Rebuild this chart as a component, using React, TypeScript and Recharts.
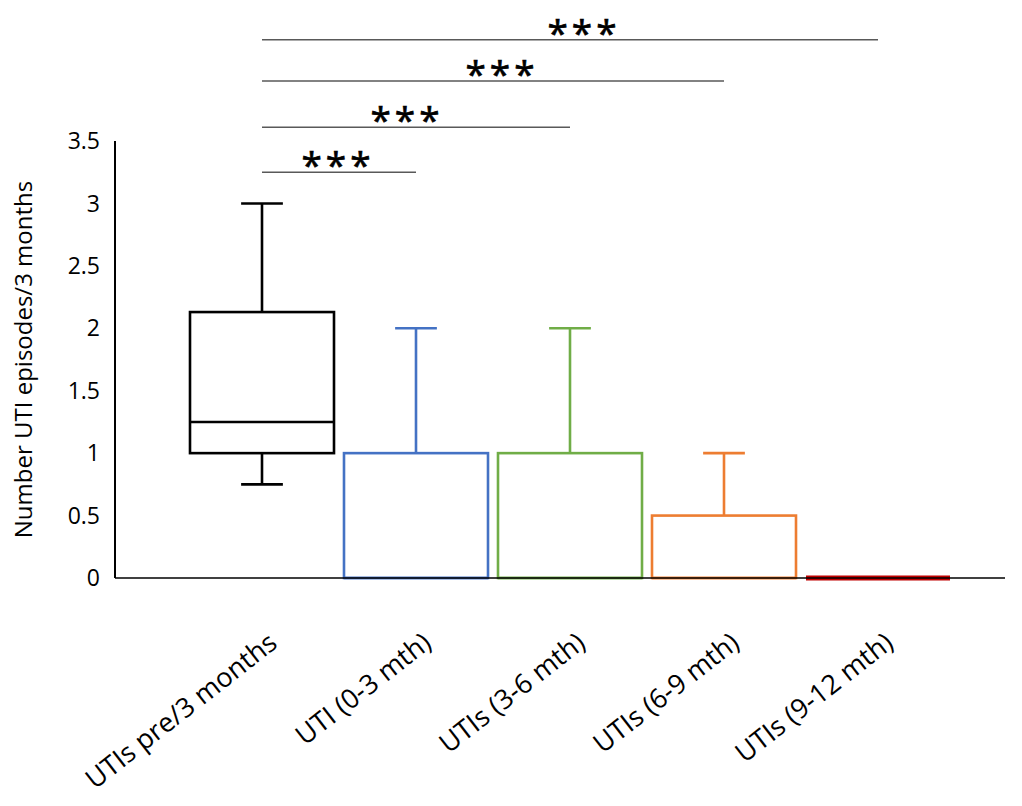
import { BarChart, Bar, XAxis, YAxis, ReferenceLine } from "recharts";

// box plot summary per period (episodes per 3 months)
const groups = [
  "UTIs pre/3 months",
  "UTI (0-3 mth)",
  "UTIs (3-6 mth)",
  "UTIs (6-9 mth)",
  "UTIs (9-12 mth)",
];
const minValues = [0.75, 0, 0, 0, 0];
const q1Values = [1, 0, 0, 0, 0];
const medianValues = [1.25, 0, 0, 0, 0];
const q3Values = [2.13, 1, 1, 0.5, 0];
const maxValues = [3, 2, 2, 1, 0];
const yTicks = [0, 0.5, 1, 1.5, 2, 2.5, 3, 3.5];

// significance brackets: from first group to each later group
const compareTo = [groups[1], groups[2], groups[3], groups[4]];
const compareLevels = [3.25, 3.61, 3.98, 4.31];
const compareLabels = ["***", "***", "***", "***"];

const boxColors = ["#000000", "#4472C4", "#70AD47", "#ED7D31", "#C00000"];
const starShift = [-3, -11, 7, 12];

const data = groups.map((group, i) => ({
  group,
  range: [minValues[i], maxValues[i]],
  min: minValues[i],
  q1: q1Values[i],
  median: medianValues[i],
  q3: q3Values[i],
  max: maxValues[i],
}));

const BoxShape = (props: any) => {
  const { x, y, width, height, payload, index } = props;
  const color = boxColors[index] ?? "#000";
  const { min, q1, median, q3, max } = payload;
  if (max === min) {
    return (
      <line x1={x} x2={x + width} y1={y} y2={y} stroke={color} strokeWidth={5} />
    );
  }
  const toY = (v: number) => y + (height * (max - v)) / (max - min);
  const cx = x + width / 2;
  const cap = width * 0.145;
  const sw = 2.6;
  return (
    <g>
      {max > q3 && (
        <>
          <line x1={cx} x2={cx} y1={toY(q3)} y2={toY(max)} stroke={color} strokeWidth={sw} />
          <line x1={cx - cap} x2={cx + cap} y1={toY(max)} y2={toY(max)} stroke={color} strokeWidth={sw} />
        </>
      )}
      {min < q1 && (
        <>
          <line x1={cx} x2={cx} y1={toY(q1)} y2={toY(min)} stroke={color} strokeWidth={sw} />
          <line x1={cx - cap} x2={cx + cap} y1={toY(min)} y2={toY(min)} stroke={color} strokeWidth={sw} />
        </>
      )}
      <rect
        x={x}
        y={toY(q3)}
        width={width}
        height={toY(q1) - toY(q3)}
        fill="none"
        stroke={color}
        strokeWidth={sw}
      />
      <line x1={x} x2={x + width} y1={toY(median)} y2={toY(median)} stroke={color} strokeWidth={sw} />
    </g>
  );
};

const CategoryTick = (props: any) => {
  const { x, y, payload } = props;
  return (
    <text
      transform={`translate(${x + 17},${y + 60}) rotate(-38)`}
      textAnchor="end"
      fontSize={27}
      fill="#000"
    >
      {payload.value}
    </text>
  );
};

export default function App() {
  return (
    <div style={{ position: "absolute", left: 0, top: 0, background: "#fff" }}>
      <BarChart
        width={1022}
        height={806}
        data={data}
        margin={{ top: 141, right: 17, bottom: 28, left: 0 }}
        barCategoryGap={5}
        style={{ fontFamily: "'Open Sans', sans-serif" }}
      >
        <XAxis
          dataKey="group"
          height={200}
          tick={<CategoryTick />}
          tickLine={false}
          axisLine={{ stroke: "#000", strokeWidth: 1.5 }}
          padding={{ left: 70, right: 50 }}
          interval={0}
        />
        <YAxis
          width={115}
          domain={[0, 3.5]}
          ticks={yTicks}
          tickLine={false}
          tickMargin={9}
          axisLine={{ stroke: "#000", strokeWidth: 2 }}
          tick={{ fill: "#000", fontSize: 23 }}
          label={{
            value: "Number UTI episodes/3 months",
            angle: -90,
            position: "insideLeft",
            offset: 23,
            style: { textAnchor: "middle", fill: "#000", fontSize: 24 },
          }}
        />
        <Bar
          dataKey="range"
          shape={<BoxShape />}
          isAnimationActive={false}
        />
        {compareTo.map((target, i) => (
          <ReferenceLine
            key={target}
            segment={[
              { x: groups[0], y: compareLevels[i] },
              { x: target, y: compareLevels[i] },
            ]}
            ifOverflow="visible"
            stroke="#595959"
            strokeWidth={1.5}
            label={(lp: any) => {
              const vb = lp.viewBox || {};
              const midX = vb.x + (vb.width || 0) / 2 + starShift[i] + 2;
              return (
                <text
                  x={midX}
                  y={vb.y + 6}
                  textAnchor="middle"
                  fontSize={37}
                  letterSpacing={4}
                  stroke="#000"
                  strokeWidth={0.7}
                  fill="#000"
                >
                  {compareLabels[i]}
                </text>
              );
            }}
          />
        ))}
      </BarChart>
    </div>
  );
}
